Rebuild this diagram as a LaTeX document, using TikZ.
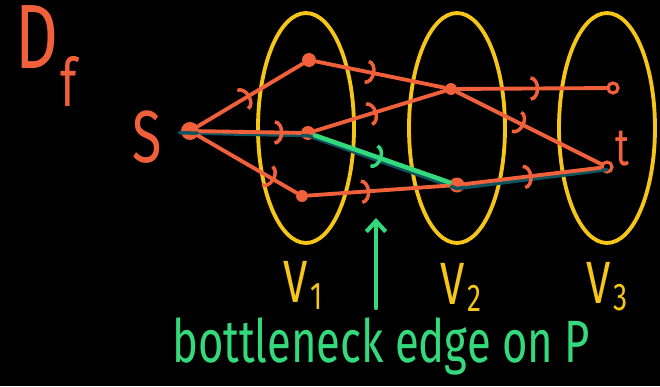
\documentclass[tikz,border=0pt]{standalone}
\usepackage{fontspec}
\setmainfont{Fira Sans}
\newfontfamily\handfont[FakeStretch=0.73]{Fira Sans}
\usetikzlibrary{positioning,shapes.geometric,decorations.markings,arrows.meta}
\definecolor{flowred}{HTML}{F0603A}
\definecolor{layeryellow}{HTML}{F5C518}
\definecolor{pathgreen}{HTML}{34D97B}
\definecolor{pathteal}{HTML}{0F5560}
\newcommand\layername[1]{V\kern2pt\raisebox{-0.12em}{\fontsize{22}{22}\selectfont #1}}

\begin{document}
\begin{tikzpicture}[x=0.02cm, y=-0.02cm,
    vtx/.style={circle, fill=flowred, inner sep=0pt, minimum size=#1},
    vtx/.default=0.26cm,
    hollow/.style={circle, draw=flowred, line width=1.8pt, fill=black, inner sep=0pt, minimum size=0.2cm},
    layer/.style={ellipse, draw=layeryellow, line width=2.2pt, minimum width=1.92cm, minimum height=4.6cm},
    flow/.style={flowred, line width=2.2pt, line cap=round, postaction={decorate},
        decoration={markings, mark=at position #1 with {\arrow{Arc Barb[length=5pt, width=14pt, line width=2pt]}}}},
    flow/.default=0.5,
    hand/.style={font=\handfont\fontsize{#1}{#1}\selectfont, inner sep=0pt},
    pointer/.style={-{Straight Barb[length=6pt, width=11pt]}, pathgreen, line width=2.4pt, line cap=round}
]
\fill[black] (0,0) rectangle (660,386);

% layers
\node[layer] (L1) at (306,128) {};
\node[layer] (L2) at (457,128) {};
\node[layer] (L3) at (607,128) {};

% vertices
\node[vtx=0.36cm] (s) at (190,131) {};
\node[vtx=0.28cm] (a) at (309,60) {};
\node[vtx=0.28cm] (b) at (308,133) {};
\node[vtx=0.24cm] (c) at (302,196) {};
\node[vtx=0.24cm] (d) at (451,89) {};
\node[vtx=0.3cm] (e) at (457,185) {};
\node[hollow] (f) at (613,88) {};
\node[hollow] (t) at (607,167) {};

% path P underneath
\draw[pathteal, line width=2pt, line cap=round]
    ([xshift=-6pt, yshift=-1pt]s.center) -- ([yshift=-1.5pt]b.center)
    -- ([yshift=-2pt]e.center) -- ([yshift=-1.5pt]t.center);

% edges
\draw[flow] (s) -- (a);
\draw[flow=0.83] (s) -- (b);
\draw[flow=0.78] (s) -- (c);
\draw[flow=0.46] (a) -- (d);
\draw[flow=0.48] (b) -- (d);
\draw[flow=0.44] (c) -- (e);
\draw[flow=0.55] (d) -- (f);
\draw[flow=0.47] (d) -- (t);
\draw[flow] (e) -- (t);
\draw[flow, pathgreen, line width=2.6pt] (b) -- (e);

% labels
\node[hand=52, text=flowred] (Df) at (46,56) {D\kern1pt\raisebox{-0.42em}{\fontsize{38}{38}\selectfont f}};
\node[hand=42, text=flowred] (slabel) at (147,137) {S};
\node[hand=30, text=flowred] (tlabel) at (622,148) {t};
\node[hand=34, text=layeryellow] (V1) at (303,285) {\layername{1}};
\node[hand=34, text=layeryellow] (V2) at (461,287) {\layername{2}};
\node[hand=34, text=layeryellow] (V3) at (607,287) {\layername{3}};

\node[hand=34, text=pathgreen, anchor=base west] (note) at (172,362) {bottleneck edge on P};
\coordinate (tip) at (376,218);
\draw[pointer] ([yshift=5pt]note.north -| tip) -- (tip);
\end{tikzpicture}
\end{document}
